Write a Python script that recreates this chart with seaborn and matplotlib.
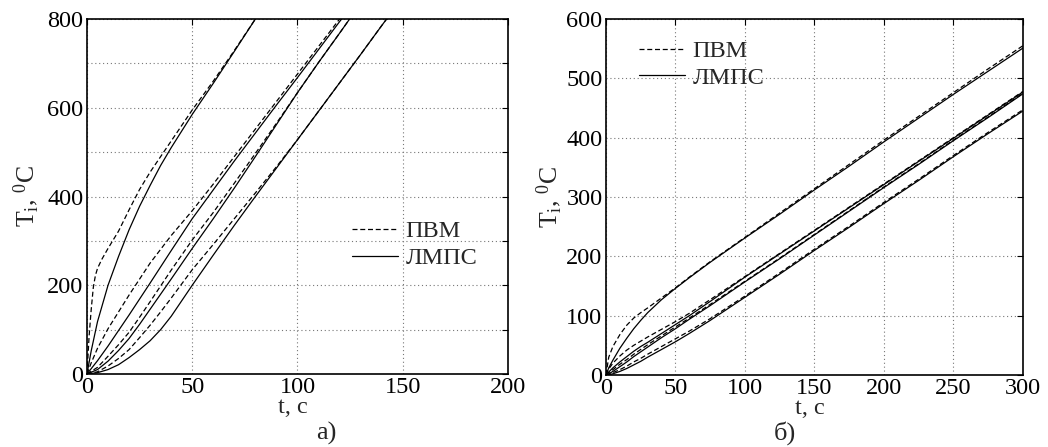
import pandas as pd
import matplotlib
matplotlib.use('Agg')
import matplotlib.pyplot as plt
import seaborn as sns
from matplotlib.ticker import MultipleLocator

# ── Panel а): T_i(t) ──
a_A_pvm_t = [0, 1, 2, 3, 4, 5, 7, 10, 15, 20, 25, 30, 40, 50, 60, 70, 80, 85]
a_A_pvm_T = [0, 85, 145, 195, 222, 238, 258, 283, 322, 370, 416, 455, 525, 595, 660, 729, 800, 836]
a_A_lmps_t = [0, 2, 5, 10, 15, 20, 25, 30, 35, 40, 50, 60, 70, 80, 85]
a_A_lmps_T = [0, 52, 118, 200, 265, 325, 378, 425, 470, 510, 585, 655, 727, 800, 836]

a_B_pvm_t = [0, 2, 5, 10, 15, 20, 30, 40, 50, 60, 70, 80, 90, 100, 110, 120, 125]
a_B_pvm_T = [0, 25, 58, 102, 140, 178, 250, 312, 368, 428, 490, 552, 614, 676, 738, 800, 831]
a_B_lmps_t = [0, 5, 10, 15, 20, 30, 40, 50, 60, 70, 80, 90, 100, 110, 120, 125]
a_B_lmps_T = [0, 30, 63, 98, 133, 205, 278, 350, 415, 480, 543, 606, 668, 731, 794, 825]

a_C_t = [0, 5, 10, 15, 20, 25, 30, 40, 50, 60, 70, 80, 90, 100, 110, 120, 130]
a_C_pvm_T = [0, 15, 40, 66, 94, 128, 163, 234, 302, 364, 430, 497, 565, 634, 702, 768, 835]
a_C_lmps_T = [0, 10, 29, 53, 80, 112, 146, 214, 283, 350, 419, 490, 562, 634, 702, 768, 835]

a_D_t = [0, 5, 10, 15, 20, 25, 30, 35, 40, 45, 50, 60, 70, 80, 90, 100, 110, 120, 130, 140, 145]
a_D_pvm_T = [0, 5, 18, 35, 55, 82, 110, 140, 171, 203, 235, 292, 350, 408, 467, 528, 592, 656, 720, 785, 817]
a_D_lmps_T = [0, 3, 10, 21, 37, 55, 75, 100, 130, 165, 200, 268, 335, 400, 464, 528, 592, 656, 720, 785, 817]

# ── Panel б) ──
b_t = [0, 2, 5, 10, 15, 20, 25, 30, 40, 50, 60, 75, 100, 125, 150, 175, 200, 225, 250, 275, 300]
b_A_pvm = [0, 30, 48, 68, 84, 96, 105, 113, 130, 147, 165, 191, 232, 273, 314, 355, 396, 436, 476, 516, 555]
b_A_lmps = [0, 12, 25, 45, 62, 78, 92, 105, 127, 146, 164, 190, 231, 271, 312, 352, 393, 433, 473, 512, 551]
b_B_pvm = [0, 10, 20, 32, 42, 50, 57, 64, 77, 90, 104, 127, 166, 205, 244, 283, 322, 361, 400, 439, 478]
b_B_lmps = [0, 5, 12, 22, 31, 40, 48, 55, 70, 85, 100, 124, 165, 204, 243, 282, 321, 360, 399, 438, 477]
b_C_pvm = [0, 4, 9, 18, 26, 35, 43, 51, 66, 81, 96, 119, 158, 197, 237, 277, 317, 356, 396, 435, 475]
b_C_lmps = [0, 2, 6, 14, 22, 31, 39, 47, 63, 78, 94, 117, 157, 196, 236, 276, 316, 355, 395, 434, 474]
b_D_pvm = [0, 1, 4, 9, 15, 22, 28, 35, 48, 61, 74, 95, 133, 172, 212, 251, 291, 330, 370, 409, 447]
b_D_lmps = [0, 0.5, 2, 6, 11, 17, 23, 30, 43, 56, 70, 92, 131, 170, 210, 249, 289, 328, 368, 407, 445]

sns.set_style("white")
plt.rcParams['font.family'] = ['Liberation Serif', 'DejaVu Serif']
plt.rcParams['mathtext.fontset'] = 'custom'
plt.rcParams['mathtext.rm'] = 'Liberation Serif'
plt.rcParams['mathtext.it'] = 'Liberation Serif:italic'

FS = 17.5
DASH = (4, 2.2)

fig = plt.figure(figsize=(10.48, 4.47), dpi=100)
ax1 = fig.add_axes([0.0830, 0.1633, 0.4017, 0.7942])
ax2 = fig.add_axes([0.5782, 0.1611, 0.3979, 0.7964])

left_curves = [
    (a_A_pvm_t, a_A_pvm_T, a_A_lmps_t, a_A_lmps_T),
    (a_B_pvm_t, a_B_pvm_T, a_B_lmps_t, a_B_lmps_T),
    (a_C_t, a_C_pvm_T, a_C_t, a_C_lmps_T),
    (a_D_t, a_D_pvm_T, a_D_t, a_D_lmps_T),
]
right_curves = [
    (b_t, b_A_pvm, b_t, b_A_lmps),
    (b_t, b_B_pvm, b_t, b_B_lmps),
    (b_t, b_C_pvm, b_t, b_C_lmps),
    (b_t, b_D_pvm, b_t, b_D_lmps),
]


def draw(ax, curves):
    for i, (tp, Tp, ts, Ts) in enumerate(curves):
        sns.lineplot(x=tp, y=Tp, ax=ax, color='black', lw=0.9,
                     estimator=None, sort=False,
                     label='ПВМ' if i == 0 else None).lines[-1].set_dashes(DASH)
        sns.lineplot(x=ts, y=Ts, ax=ax, color='black', lw=0.9,
                     estimator=None, sort=False,
                     label='ЛМПС' if i == 0 else None)


draw(ax1, left_curves)
draw(ax2, right_curves)

ax1.set_xlim(0, 200)
ax1.set_ylim(0, 800)
ax1.xaxis.set_major_locator(MultipleLocator(50))
ax1.yaxis.set_major_locator(MultipleLocator(200))
ax1.yaxis.set_minor_locator(MultipleLocator(100))

ax2.set_xlim(0, 300)
ax2.set_ylim(0, 600)
ax2.xaxis.set_major_locator(MultipleLocator(50))
ax2.yaxis.set_major_locator(MultipleLocator(100))

for ax in (ax1, ax2):
    ax.grid(True, which='both', linestyle=(0, (1, 2.5)), color='#777777', lw=0.8)
    ax.tick_params(which='both', direction='in', length=4, width=0.8,
                   top=True, right=True, labelsize=FS, pad=2.5, colors='black')
    for s in ax.spines.values():
        s.set_color('black')
        s.set_linewidth(1.2)
    ax.set_xlabel('t, c', fontsize=FS)
    ax.set_ylabel(r'T$_{\rm i}$, $^{\rm 0}$C', fontsize=FS + 1)

ax1.xaxis.set_label_coords(0.49, -0.065)
ax1.yaxis.set_label_coords(-0.11, 0.5)
ax2.xaxis.set_label_coords(0.49, -0.065)
ax2.yaxis.set_label_coords(-0.10, 0.5)

ax1.text(0.568, -0.168, 'а)', transform=ax1.transAxes, ha='center', va='center',
         fontsize=FS + 1.5)
ax2.text(0.43, -0.163, 'б)', transform=ax2.transAxes, ha='center', va='center',
         fontsize=FS + 1.5)

ax1.legend(loc='upper left', bbox_to_anchor=(0.629, 0.433), frameon=False,
           fontsize=FS, handlelength=1.9, handletextpad=0.3, labelspacing=0.2,
           borderpad=0, borderaxespad=0)
ax2.legend(loc='upper left', bbox_to_anchor=(0.079, 0.941), frameon=False,
           fontsize=FS, handlelength=1.9, handletextpad=0.3, labelspacing=0.2,
           borderpad=0, borderaxespad=0)

fig.savefig('out.png', dpi=100)
